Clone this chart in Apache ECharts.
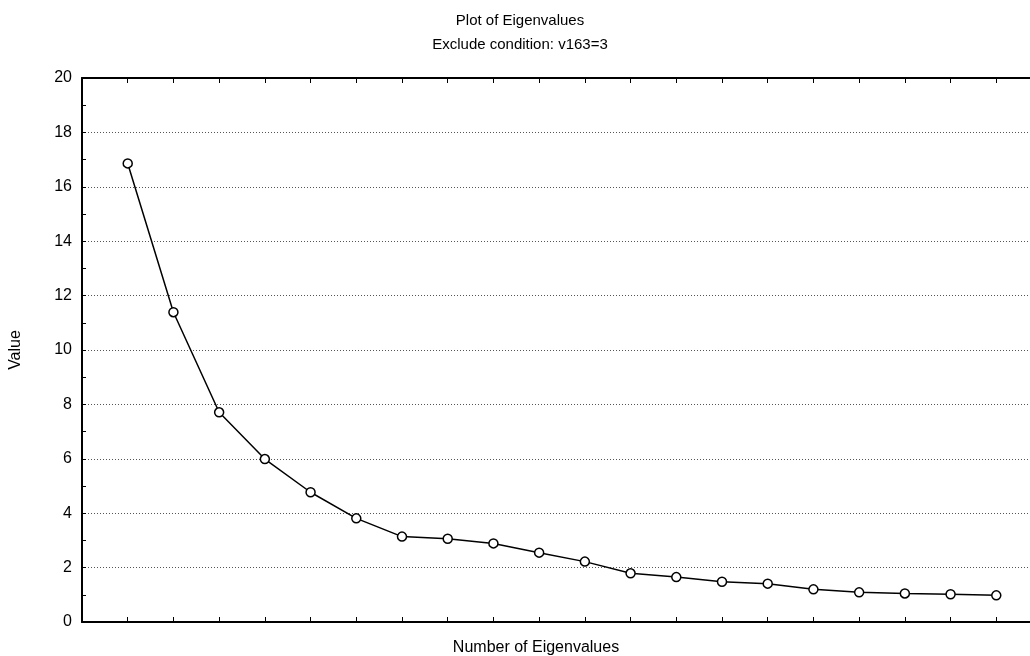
<!DOCTYPE html>
<html>
<head>
<meta charset="utf-8">
<script src="https://cdn.jsdelivr.net/npm/echarts@6/dist/echarts.min.js"></script>
<style>html,body{margin:0;padding:0;background:#fff;overflow:hidden;width:1030px;height:656px;}#c{width:1042px;height:656px;}</style>
</head>
<body>
<div id="c"></div>
<script>
const numbers = [1,2,3,4,5,6,7,8,9,10,11,12,13,14,15,16,17,18,19,20];
const eigenvalues = [16.86,11.39,7.71,5.99,4.77,3.81,3.14,3.06,2.89,2.55,2.22,1.79,1.65,1.48,1.41,1.20,1.09,1.05,1.02,0.98];
const yTicks = [0,2,4,6,8,10,12,14,16,18,20];

const font = 'Arial, "Liberation Sans", sans-serif';
const chart = echarts.init(document.getElementById('c'));
chart.setOption({
  animation: false,
  backgroundColor: '#fff',
  title: [
    {text: 'Plot of Eigenvalues', left: 515, top: 8, textAlign: 'center',
     textStyle: {fontFamily: font, fontSize: 15, fontWeight: 'normal', color: '#000'}},
    {text: 'Exclude condition: v163=3', left: 515, top: 32, textAlign: 'center',
     textStyle: {fontFamily: font, fontSize: 15, fontWeight: 'normal', color: '#000'}},
    {text: 'Number of Eigenvalues', left: 531, top: 635, textAlign: 'center',
     textStyle: {fontFamily: font, fontSize: 16, fontWeight: 'normal', color: '#000'}}
  ],
  grid: {left: 79.5, top: 78, right: 0, bottom: 34, show: false},
  xAxis: [
    {type: 'value', min: 0, max: 21, interval: 1, position: 'bottom',
     axisLine: {show: true, lineStyle: {color: '#000', width: 2}},
     axisTick: {show: true, inside: true, length: 5, lineStyle: {color: '#000', width: 1}},
     axisLabel: {show: false}, splitLine: {show: false}},
    {type: 'value', min: 0, max: 21, interval: 1, position: 'top',
     axisLine: {show: true, onZero: false, lineStyle: {color: '#000', width: 2}},
     axisTick: {show: true, inside: true, length: 5, lineStyle: {color: '#000', width: 1}},
     axisLabel: {show: false}, splitLine: {show: false}}
  ],
  yAxis: {
    type: 'value', min: 0, max: 20, interval: 2,
    name: 'Value', nameLocation: 'middle', nameGap: 58,
    nameTextStyle: {fontFamily: font, fontSize: 16, color: '#000'},
    axisLine: {show: true, lineStyle: {color: '#000', width: 2}},
    axisTick: {show: true, inside: true, length: 4, lineStyle: {color: '#000'}},
    minorTick: {show: true, splitNumber: 2, length: 4, lineStyle: {color: '#000'}},
    axisLabel: {fontFamily: font, fontSize: 16, color: '#000', margin: 10,
      formatter: v => yTicks.includes(v) ? String(v) : ''},
    splitLine: {show: true, lineStyle: {color: '#555', type: [1, 2], width: 1}}
  },
  series: [{
    type: 'line',
    data: numbers.map((n, i) => [n, eigenvalues[i]]),
    symbol: 'circle', symbolSize: 9,
    itemStyle: {color: '#fff', borderColor: '#000', borderWidth: 1.5},
    lineStyle: {color: '#000', width: 1.5},
    z: 5
  }]
});
</script>
</body>
</html>
